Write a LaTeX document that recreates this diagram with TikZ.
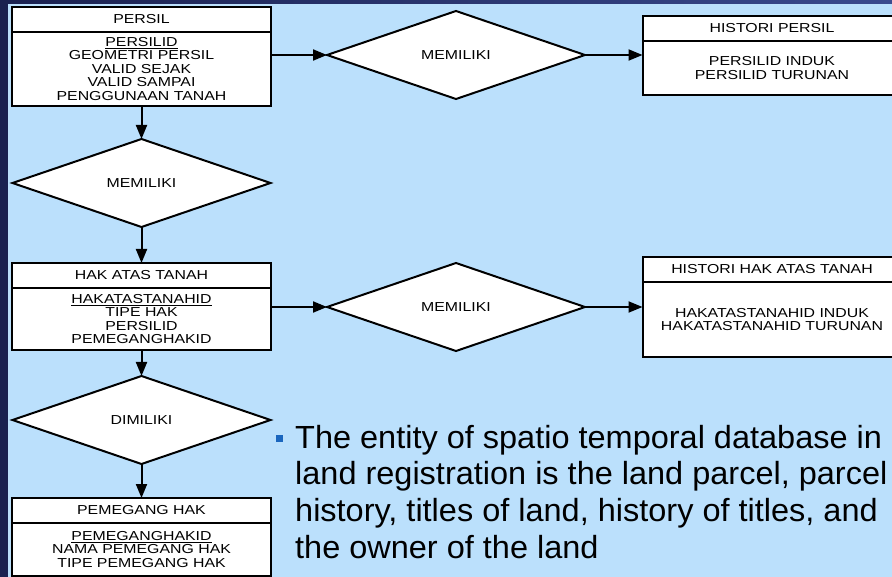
\documentclass[tikz,border=0pt]{standalone}
\usepackage{fontspec}
\setmainfont{Liberation Sans}
\newfontfamily\erfont[FakeStretch=1.22]{Liberation Sans}
\newfontfamily\notefont[FakeStretch=1.015]{Liberation Sans}
\usetikzlibrary{arrows.meta,shapes.geometric}

\definecolor{slidebg}{HTML}{BBE0FC}
\definecolor{slidenavy}{HTML}{1A2150}
\definecolor{slidenavyr}{HTML}{3A4A8E}
\definecolor{bulletblue}{HTML}{1A66BE}

\tikzset{
  enttitle/.style={draw, fill=white, line width=2pt, minimum width=259pt,
    minimum height=25pt, inner sep=0pt, outer sep=0pt, anchor=north,
    font=\erfont\fontsize{13}{13.5}\selectfont},
  entbody/.style={enttitle, align=center},
  relation/.style={diamond, draw, fill=white, line width=2pt, minimum width=258pt,
    minimum height=88pt, inner sep=0pt, outer sep=0pt,
    font=\erfont\fontsize{13}{13.5}\selectfont},
  link/.style={line width=2pt, -{Triangle[length=14pt,width=11pt]}},
  note/.style={align=left, inner sep=0pt, anchor=north west,
    font=\notefont\fontsize{32}{36.6}\selectfont}
}

\begin{document}
\begin{tikzpicture}[x=1pt,y=-1pt]
    \useasboundingbox (0,0) rectangle (892,577);
    \clip (0,0) rectangle (892,577);
    \shade[left color=slidenavy, right color=slidenavyr] (0,0) rectangle (892,577);
    \fill[slidebg] (8,4) rectangle (892,577);

    \node[enttitle] (persil) at (141.5,7) {PERSIL};
    \node[entbody, minimum height=74pt] (persilbody) at (persil.south)
      {\underline{PERSILID}\\GEOMETRI PERSIL\\VALID SEJAK\\VALID SAMPAI\\PENGGUNAAN TANAH};

    \node[enttitle] (histpersil) at (772,16) {HISTORI PERSIL};
    \node[entbody, minimum height=54pt] (histpersilbody) at (histpersil.south)
      {PERSILID INDUK\\PERSILID TURUNAN};

    \node[enttitle] (hak) at (141.5,263) {HAK ATAS TANAH};
    \node[entbody, minimum height=62pt] (hakbody) at (hak.south)
      {\underline{HAKATASTANAHID}\\TIPE HAK\\PERSILID\\PEMEGANGHAKID};

    \node[enttitle] (histhak) at (772,257) {HISTORI HAK ATAS TANAH};
    \node[entbody, minimum height=75pt] (histhakbody) at (histhak.south)
      {HAKATASTANAHID INDUK\\HAKATASTANAHID TURUNAN};

    \node[enttitle] (pemegang) at (141.5,498) {PEMEGANG HAK};
    \node[entbody, minimum height=53pt] (pemegangbody) at (pemegang.south)
      {\underline{PEMEGANGHAKID}\\NAMA PEMEGANG HAK\\TIPE PEMEGANG HAK};

    \node[relation] (rel1) at (456,55) {MEMILIKI};
    \node[relation] (rel2) at (141.5,183) {MEMILIKI};
    \node[relation] (rel3) at (456,307) {MEMILIKI};
    \node[relation] (rel4) at (141.5,420) {DIMILIKI};

    \draw[link] (persilbody.east |- rel1.west) -- (rel1.west);
    \draw[link] (rel1.east) -- (rel1.east -| histpersilbody.west);
    \draw[link] (persilbody.south) -- (rel2.north);
    \draw[link] (rel2.south) -- (hak.north);
    \draw[link] (hakbody.east |- rel3.west) -- (rel3.west);
    \draw[link] (rel3.east) -- (rel3.east -| histhakbody.west);
    \draw[link] (hakbody.south) -- (rel4.north);
    \draw[link] (rel4.south) -- (pemegang.north);

    \node[fill=bulletblue, minimum size=7pt, inner sep=0pt] (bullet) at (279,438) {};
    \node[note] (notetext) at (295,425)
      {The entity of spatio temporal database in\\land registration is the land parcel, parcel\\history, titles of land, history of titles, and\\the owner of the land};
\end{tikzpicture}
\end{document}
